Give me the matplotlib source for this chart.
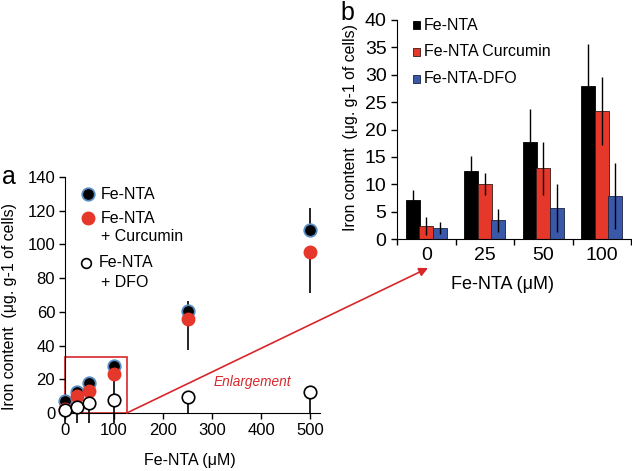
import numpy as np
import matplotlib
matplotlib.use("Agg")
import matplotlib.pyplot as plt
from matplotlib.patches import Rectangle

plt.rcParams['font.family'] = ['Liberation Sans', 'DejaVu Sans']

# panel a: iron content vs Fe-NTA concentration
conc_a = [0, 25, 50, 100, 250, 500]
fe_nta = [7.1, 12.4, 17.8, 27.9, 60.5, 108.5]
fe_nta_err_up = [0, 0, 0, 0, 6, 13]
curcumin = [2.4, 10.0, 12.9, 23.4, 55.5, 95.5]
curcumin_err_down = [0, 0, 0, 15.6, 18, 24]
dfo = [2.0, 3.4, 5.7, 7.8, 9.3, 12.6]
dfo_err_down = [8, 9.4, 11.7, 13.8, 9.3, 12.6]

# panel b: enlargement as bars
groups_b = ["0", "25", "50", "100"]
bar_fe_nta = [7.1, 12.4, 17.8, 27.9]
bar_fe_nta_err = [1.9, 2.8, 6.0, 7.8]
bar_curcumin = [2.4, 10.0, 12.9, 23.4]
bar_curcumin_err = [1.7, 2.0, 4.9, 6.2]
bar_dfo = [2.0, 3.4, 5.7, 7.8]
bar_dfo_err = [1.1, 2.1, 4.4, 6.0]

red = "#e5372a"
blue = "#3a58a8"
line_red = "#d8262b"

fig = plt.figure(figsize=(6.32, 4.71), dpi=100)

# ---------- panel a ----------
ax = fig.add_axes([0.1028, 0.1231, 0.4035, 0.501])
ax.errorbar(conc_a, fe_nta, yerr=[np.zeros(6), fe_nta_err_up], fmt='none',
            ecolor='black', elinewidth=1.2, capsize=0, zorder=2, clip_on=False)
ax.errorbar(conc_a, curcumin, yerr=[curcumin_err_down, np.zeros(6)], fmt='none',
            ecolor='black', elinewidth=1.2, capsize=0, zorder=2, clip_on=False)
ax.errorbar(conc_a, dfo, yerr=[dfo_err_down, np.zeros(6)], fmt='none',
            ecolor='black', elinewidth=1.2, capsize=0, zorder=2, clip_on=False)
ax.plot(conc_a, fe_nta, 'o', ms=9, mfc='black', mec='#5a8cc4', mew=1.3,
        ls='none', zorder=3, clip_on=False)
ax.plot(conc_a, curcumin, 'o', ms=9, mfc=red, mec=red, mew=1.0,
        ls='none', zorder=4, clip_on=False)
ax.plot(conc_a, dfo, 'o', ms=9, mfc='white', mec='black', mew=1.2,
        ls='none', zorder=5, clip_on=False)

ax.set_xlim(0, 520)
ax.set_ylim(0, 140)
ax.set_xticks(range(0, 501, 100))
ax.set_yticks(range(0, 141, 20))
ax.spines['top'].set_visible(False)
ax.spines['right'].set_visible(False)
ax.tick_params(direction='out', length=4, width=1, labelsize=12, pad=3)
ax.set_xlabel("Fe-NTA (\u03bcM)", fontsize=11.5)
ax.xaxis.set_label_coords(0.49, -0.17)
ax.set_ylabel("Iron content  (\u03bcg. g-1 of cells)", fontsize=11.4)
ax.yaxis.set_label_coords(-0.19, 0.45)

# manual legend
lx, tx = 0.09, 0.141
ax.plot([lx], [0.928], 'o', ms=9, mfc='black', mec='#5a8cc4', mew=1.3,
        transform=ax.transAxes, clip_on=False)
ax.text(tx, 0.928, "Fe-NTA", transform=ax.transAxes, fontsize=11.5, va='center')
ax.plot([lx], [0.826], 'o', ms=9, mfc=red, mec=red,
        transform=ax.transAxes, clip_on=False)
ax.text(tx, 0.826, "Fe-NTA", transform=ax.transAxes, fontsize=11.5, va='center')
ax.text(tx, 0.75, "+ Curcumin", transform=ax.transAxes, fontsize=11.5, va='center')
ax.plot([0.082], [0.636], 'o', ms=7, mfc='white', mec='black', mew=1.2,
        transform=ax.transAxes, clip_on=False)
ax.text(0.133, 0.636, "Fe-NTA", transform=ax.transAxes, fontsize=11.5, va='center')
ax.text(tx, 0.551, "+ DFO", transform=ax.transAxes, fontsize=11.5, va='center')

# enlargement box and arrow
ax.add_patch(Rectangle((0, 0), 126, 33, fill=False, ec=line_red, lw=1.2,
                       clip_on=False, zorder=1))
ax.annotate("", xy=(428 / 632, 1 - 268 / 471), xycoords='figure fraction',
            xytext=(126, 0), textcoords='data', annotation_clip=False,
            arrowprops=dict(arrowstyle='-|>', color=line_red, lw=1.2,
                            mutation_scale=13, shrinkA=0, shrinkB=0))
ax.text(382, 18.4, "Enlargement", color=line_red, fontsize=9.8,
        style='italic', ha='center', va='center')

fig.text(0.003, 1 - 177 / 471, "a", fontsize=18, va='center', ha='left')

# ---------- panel b ----------
bx = fig.add_axes([397 / 632, 1 - 239 / 471, 234 / 632, 219 / 471])
pos = np.arange(len(groups_b))
w = 0.235
off = 0.232
bx.bar(pos - off, bar_fe_nta, w, color='black', edgecolor='black', lw=0.6)
bx.bar(pos, bar_curcumin, w, color=red, edgecolor='#3a1a15', lw=0.6)
bx.bar(pos + off, bar_dfo, w, color=blue, edgecolor='#1a2240', lw=0.6)
bx.errorbar(pos - off, bar_fe_nta, yerr=bar_fe_nta_err, fmt='none',
            ecolor='black', elinewidth=1.0, capsize=0)
bx.errorbar(pos, bar_curcumin, yerr=bar_curcumin_err, fmt='none',
            ecolor='black', elinewidth=1.0, capsize=0)
bx.errorbar(pos + off, bar_dfo, yerr=bar_dfo_err, fmt='none',
            ecolor='black', elinewidth=1.0, capsize=0)

bx.set_xlim(-0.5, 3.5)
bx.set_ylim(0, 40)
bx.set_yticks(range(0, 41, 5))
bx.set_xticks(np.arange(-0.5, 3.6, 1.0))
bx.set_xticklabels([])
bx.set_xticks(pos, minor=True)
bx.set_xticklabels(groups_b, minor=True)
bx.tick_params(axis='x', which='minor', length=0, labelsize=14, pad=6)
bx.tick_params(axis='x', which='major', direction='out', length=4, width=1)
bx.tick_params(axis='y', direction='out', length=4, width=1, labelsize=14)
bx.spines['top'].set_visible(False)
bx.spines['right'].set_visible(False)
bx.set_xlabel("Fe-NTA (\u03bcM)", fontsize=13)
bx.xaxis.set_label_coords(0.45, -0.17)
bx.set_ylabel("Iron content  (\u03bcg. g-1 of cells)", fontsize=11.4)
bx.yaxis.set_label_coords(-0.165, 0.507)

# manual legend for bars
for yy, col, ec, lab in [(0.977, 'black', 'black', "Fe-NTA"),
                         (0.854, red, '#3a1a15', "Fe-NTA Curcumin"),
                         (0.731, blue, '#1a2240', "Fe-NTA-DFO")]:
    bx.add_patch(Rectangle((0.068, yy - 0.018), 0.032, 0.036, fc=col, ec=ec,
                           lw=0.6, transform=bx.transAxes, clip_on=False))
    bx.text(0.115, yy, lab, transform=bx.transAxes, fontsize=11.5, va='center')

fig.text(340 / 632, 1 - 13 / 471, "b", fontsize=18, va='center', ha='left')

fig.savefig("out.png", dpi=100)
